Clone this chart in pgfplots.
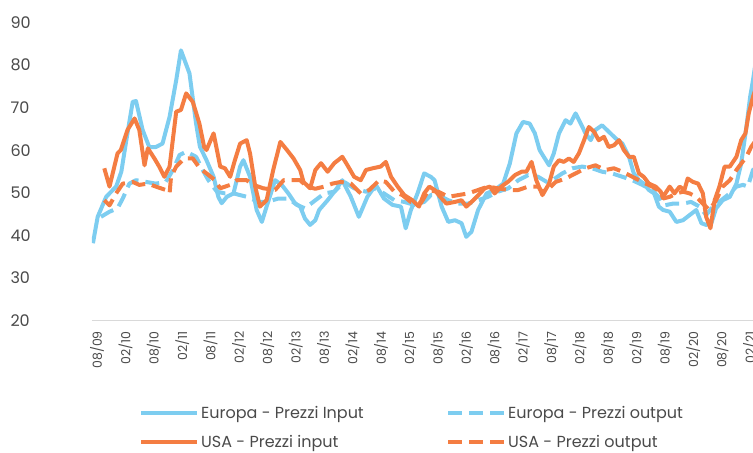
\documentclass[border=0pt]{standalone}
\usepackage{fontspec}
\setmainfont{Poppins}
\usepackage{pgfplots}
\pgfplotsset{compat=1.18}
\definecolor{eublue}{HTML}{7DCDF0}
\definecolor{usorange}{HTML}{F47D42}
\definecolor{txt}{HTML}{4A4A4A}
\begin{document}
\begin{tikzpicture}
\begin{axis}[
  scale only axis,
  width=661pt, height=298pt,
  xmin=-1.7, xmax=138,
  ymin=20, ymax=90,
  ytick={20,30,...,90},
  xtick={0,6,...,138},
  xticklabels={08/09,02/10,08/10,02/11,08/11,02/12,08/12,02/13,08/13,02/14,08/14,02/15,08/15,02/16,08/16,02/17,08/17,02/18,08/18,02/19,08/19,02/20,08/20,02/21},
  axis lines*=left,
  y axis line style={draw=none},
  x axis line style={draw=black!15, line width=1.5pt},
  tick style={draw=none},
  /pgf/number format/assume math mode=true,
  yticklabel style={font=\fontsize{16}{16}\selectfont, text=txt, anchor=west, xshift=-85pt},
  xticklabel style={rotate=90, anchor=east, font=\fontsize{12.5}{12.5}\selectfont, text=txt, xshift=-7pt, yshift=3pt},
  every axis plot/.append style={line width=4pt, line join=round},
  legend columns=2,
  legend cell align=left,
  legend image code/.code={\draw[#1] (0pt,0pt) -- (56pt,0pt);},
  legend style={draw=none, fill=none, font=\fontsize{16}{16}\selectfont, text=txt,
    at={(axis description cs:0,0)}, anchor=north west, xshift=44pt, yshift=-81pt,
    row sep=12pt},
]
\addplot[eublue] coordinates {
(-1.5,38.2) (-0.5,44.4) (1.3,49.1) (3.4,51.5) (4.5,55) (5.5,62) (6.9,71.4) (7.6,71.6) (9,64.8) (10.4,60.8) (11.8,60.8) (13.2,61.6) (14.7,67.9) (16.1,76.5) (17.1,83.5) (18.9,78.1) (20.3,66.3) (21.1,60.9) (22.5,57.7) (24,53.8) (25,49.1) (25.7,47.6) (26.8,49.1) (28.2,49.9) (29.6,56.2) (30.3,57.7) (31.7,53.8) (33.1,46) (34.2,43.2) (35.2,46.8) (37,53) (38.4,51.9) (39.8,49.9) (41.2,47.6) (42.3,46.8) (43.3,44) (44.4,42.5) (45.5,43.6) (46.3,46) (48.1,48.3) (49.8,50.7) (51.2,53) (53,49.1) (54.7,44.4) (56.5,49.1) (58.3,51.9) (60,48.7) (61.8,47.2) (63.6,46.8) (64.6,41.7) (65.7,46) (67.1,49.9) (68.5,54.6) (69.9,53.8) (70.7,53) (72.2,46.8) (73.6,43.2) (75,43.6) (76.4,42.9) (77.4,39.7) (78.5,40.9) (79.9,46) (81.7,49.9) (83.4,50.7) (85.2,52.2) (86.6,56.9) (88,64) (89.4,66.7) (90.8,66.3) (91.9,64) (92.9,60.1) (93.5,59) (94.9,56.5) (95.9,59.3) (97,64) (98.4,67.1) (99.4,66.3) (100.5,68.7) (101.6,66.3) (102.6,64) (103.7,62.4) (104.7,64.8) (106.1,65.9) (107.5,64.4) (109,62.8) (110.4,61.6) (111.8,58.5) (112.8,54.6) (113.9,53) (114.9,52.2) (116,50.7) (117.1,49.9) (118.1,46.8) (119,46) (120.4,45.6) (121.8,43.2) (123.2,43.6) (124.6,44.8) (126,46) (127.1,42.9) (128.1,42.5) (129.2,42.9) (130.2,46.4) (131.6,48.3) (133.1,49.1) (134.5,52.2) (135.5,56.9) (136.6,65.5) (137.4,72.6) (138,76.5) (139,84)
};
\addlegendentry{\makebox[243pt][l]{Europa - Prezzi Input}}
\addplot[eublue, dash pattern=on 14pt off 7pt] coordinates {
(0.2,44.4) (2,45.6) (3.7,46.4) (4.8,48.7) (6.2,52.2) (7.6,53) (9.7,52.6) (11.8,52.2) (13.9,52.6) (15.4,55.4) (16.8,58.9) (18.2,59.7) (20.3,58.5) (21.7,55.4) (22.9,53) (24.7,50.3) (26.4,49.9) (28.2,49.9) (31,49.1) (33.5,47.9) (35.2,47.9) (37.7,48.7) (39.8,48.7) (41.6,47.2) (43.3,46.4) (45.4,48.2) (47.4,49.9) (49.5,50.3) (51.6,52.6) (53.7,51.1) (56.2,50.3) (57.9,51.1) (60,49.9) (62.2,48.3) (64.3,47.9) (66.4,47.2) (68.5,47.9) (69.9,49.5) (71.5,49.5) (73.6,48.3) (75.7,47.5) (77.8,47.5) (79.9,48.3) (82,49.1) (84.1,50.3) (86.3,51.1) (88.4,53) (90.5,54.2) (92.6,53.8) (94.4,52.6) (95.6,53) (97.7,54.6) (99.8,55.8) (101.9,56.2) (104,55.8) (106.1,55) (108.2,54.6) (110.4,53.8) (112.5,53) (114.6,51.9) (116.7,50.7) (118.5,48.5) (119.3,47.1) (121.1,47.5) (123.2,47.5) (124.9,47.9) (126.7,46.8) (128.1,44.8) (129.5,46.8) (131.3,48.3) (133.1,49.9) (134.5,51.5) (135.9,51.9) (136.9,51.5) (138,55.4) (139,57)
};
\addlegendentry{Europa - Prezzi output}
\addplot[usorange] coordinates {
(0.9,55.8) (2,51.5) (3.7,59.3) (4.4,60.1) (5.8,64.8) (7.3,67.5) (8.3,64.8) (9.4,56.5) (10.1,60.5) (11.5,58.1) (12.5,56.2) (13.6,53.8) (14.7,56.2) (16.1,69.1) (17.1,69.5) (18.2,73.4) (19.6,71.4) (21,66.3) (22,60.8) (22.5,60.1) (24,64) (25.4,56.2) (26.4,55.8) (27.5,53.8) (28.5,57.7) (29.6,61.6) (31,62.4) (31.7,59.3) (32.8,51.5) (33.8,46.8) (35.2,48.3) (36.6,55.4) (38.1,62) (39.5,60.1) (40.9,58.1) (42.3,55.4) (43,52.6) (44.4,51.1) (45.5,55.4) (46.7,57) (48.1,55) (49.5,57) (51.2,58.5) (52.3,56.5) (53.7,53.8) (55.1,53) (56.2,55.4) (57.6,55.8) (59.3,56.2) (60.4,57.3) (61.5,53.8) (62.9,51.5) (64.3,49.5) (66,48.3) (67.4,46.8) (68.5,49.9) (69.6,51.5) (70.7,50.7) (72.2,48.7) (73.2,47.5) (75,47.9) (76.4,48.3) (77.4,46.8) (78.9,48.3) (80.3,49.9) (81.3,51.1) (82.4,51.5) (83.4,49.9) (84.8,51.5) (86.3,52.7) (87.7,54.2) (89.1,55) (90.1,55) (91.2,57.3) (92.2,53) (93.5,49.5) (94.9,52.2) (95.9,56.2) (97,57.7) (98,57.3) (99.1,58.1) (100.1,57.3) (101.2,59.3) (102.3,62.4) (103.3,65.5) (104.4,64.4) (105.4,62.4) (106.5,63.2) (107.5,60.8) (108.6,61.2) (109.7,62.4) (110.7,60.1) (111.8,58.5) (112.8,58.5) (113.9,54.6) (114.9,53.8) (116,52.2) (117.4,51.5) (118.5,50.3) (119,49.1) (120.4,51.5) (121.4,49.9) (122.5,51.5) (123.5,50.7) (124.2,53.4) (125.3,52.6) (126.4,52.2) (127.4,49.9) (128.1,44.4) (129,41.7) (129.9,48.3) (130.9,51.5) (132,56.2) (133.1,56.2) (134.5,58.5) (135.5,62.4) (136.4,64) (137.1,68.7) (138,72.6) (139,76)
};
\addlegendentry{\makebox[243pt][l]{USA - Prezzi input}}
\addplot[usorange, dash pattern=on 14pt off 7pt] coordinates {
(0.9,48.3) (2,47.1) (3.4,49.9) (4.8,52.2) (6.9,52.6) (8.3,51.9) (10.1,52.2) (11.8,51.5) (13.9,50.7) (14.7,49.9) (15,53.8) (16.1,56.2) (17.8,58.1) (19.6,58.1) (21.1,55.8) (22.5,54.6) (24.3,53) (25.4,51.1) (27.5,51.9) (28.9,53) (31,53) (32.4,51.9) (34.5,51.1) (37,50.7) (38.8,53) (40.9,53) (42.3,53) (43.7,51.5) (45.5,51) (47.4,51.5) (49.1,52.2) (50.9,52.6) (53,52.2) (55.1,49.9) (56.9,50.7) (59,53) (60.4,52.6) (62.2,50.3) (63.9,49.5) (65.7,47.9) (67.8,47.6) (69.4,50.6) (71.5,50.3) (73.6,49.1) (75.7,49.5) (77.8,49.9) (79.9,50.7) (82,51.5) (84.1,51.1) (86.3,50.7) (88.4,50.7) (90.5,51.5) (92.6,51.5) (93.4,50.3) (94.9,51.1) (96.3,52.6) (98.4,53.4) (100.5,54.6) (102.6,55.8) (104.7,56.5) (106.8,55.4) (108.6,55.8) (110.4,55) (112.5,53.8) (114.6,52.6) (116.7,51.5) (118.5,50.3) (119,48.7) (120.4,49.1) (121.8,49.9) (123.2,50.3) (124.6,49.9) (126,49.1) (127.4,47.5) (128.8,46) (130.2,48.3) (131.6,51.5) (133.1,53) (134.5,55.4) (135.5,56.9) (136.6,58.5) (137.6,60.8) (139,63)
};
\addlegendentry{USA - Prezzi output}
\end{axis}
\pgfresetboundingbox
\path[use as bounding box] ([xshift=-92pt,yshift=22.7pt]current axis.north west) rectangle ([yshift=-132.3pt]current axis.south east);
\end{tikzpicture}
\end{document}
